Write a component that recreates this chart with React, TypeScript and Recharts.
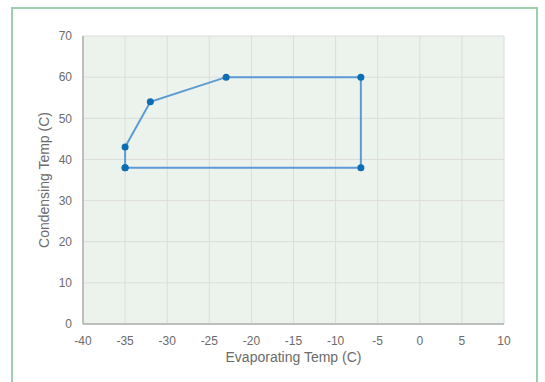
import { CartesianGrid, Scatter, ScatterChart, XAxis, YAxis } from "recharts"

// operating envelope (closed polygon)
const evapTemps = [-35, -35, -32, -23, -7, -7, -35]
const condTemps = [38, 43, 54, 60, 60, 38, 38]

const xTicks = [-40, -35, -30, -25, -20, -15, -10, -5, 0, 5, 10]
const yTicks = [0, 10, 20, 30, 40, 50, 60, 70]

const data = evapTemps.map((x, i) => ({ x, y: condTemps[i] }))

const font = "'Liberation Sans', Arial, sans-serif"

export default function App() {
  return (
    <div style={{ position: "fixed", left: 0, top: 0, width: 545, height: 382, background: "#fff", overflow: "hidden" }}>
      <div
        style={{
          position: "absolute",
          left: 11,
          top: 7,
          width: 523,
          height: 400,
          border: "2px solid #9dd0aa",
          boxSizing: "content-box",
        }}
      />
      <div style={{ position: "absolute", left: 0, top: 0 }}>
        <ScatterChart width={545} height={382} margin={{ top: 36, right: 41, left: 0, bottom: 28 }}>
          <CartesianGrid fill="#ecf3ec" stroke="#dcdcdc" strokeWidth={1} />
          <XAxis
            type="number"
            dataKey="x"
            domain={[-40, 10]}
            ticks={xTicks}
            height={30}
            tickLine={false}
            stroke="#bdbdbd"
            strokeWidth={2}
            tick={{ fill: "#6b6b6b", fontSize: 12, fontFamily: font }}
            tickMargin={6}
            label={{
              value: "Evaporating Temp (C)",
              position: "center",
              dy: 18,
              fill: "#6b6b6b",
              fontSize: 14,
              fontFamily: font,
            }}
          />
          <YAxis
            type="number"
            dataKey="y"
            domain={[0, 70]}
            ticks={yTicks}
            width={83}
            tickLine={false}
            stroke="#bdbdbd"
            strokeWidth={2}
            tick={{ fill: "#6b6b6b", fontSize: 12, fontFamily: font }}
            tickMargin={5}
            label={{
              value: "Condensing Temp (C)",
              angle: -90,
              position: "center",
              dx: 3,
              fill: "#6b6b6b",
              fontSize: 14,
              fontFamily: font,
            }}
          />
          <Scatter
            data={data}
            fill="#0b6db3"
            line={{ stroke: "#5b9bd5", strokeWidth: 2 }}
            lineType="joint"
            shape={(props: any) => <circle cx={props.cx} cy={props.cy} r={3.5} fill="#0b6db3" />}
            isAnimationActive={false}
          />
        </ScatterChart>
      </div>
    </div>
  )
}
